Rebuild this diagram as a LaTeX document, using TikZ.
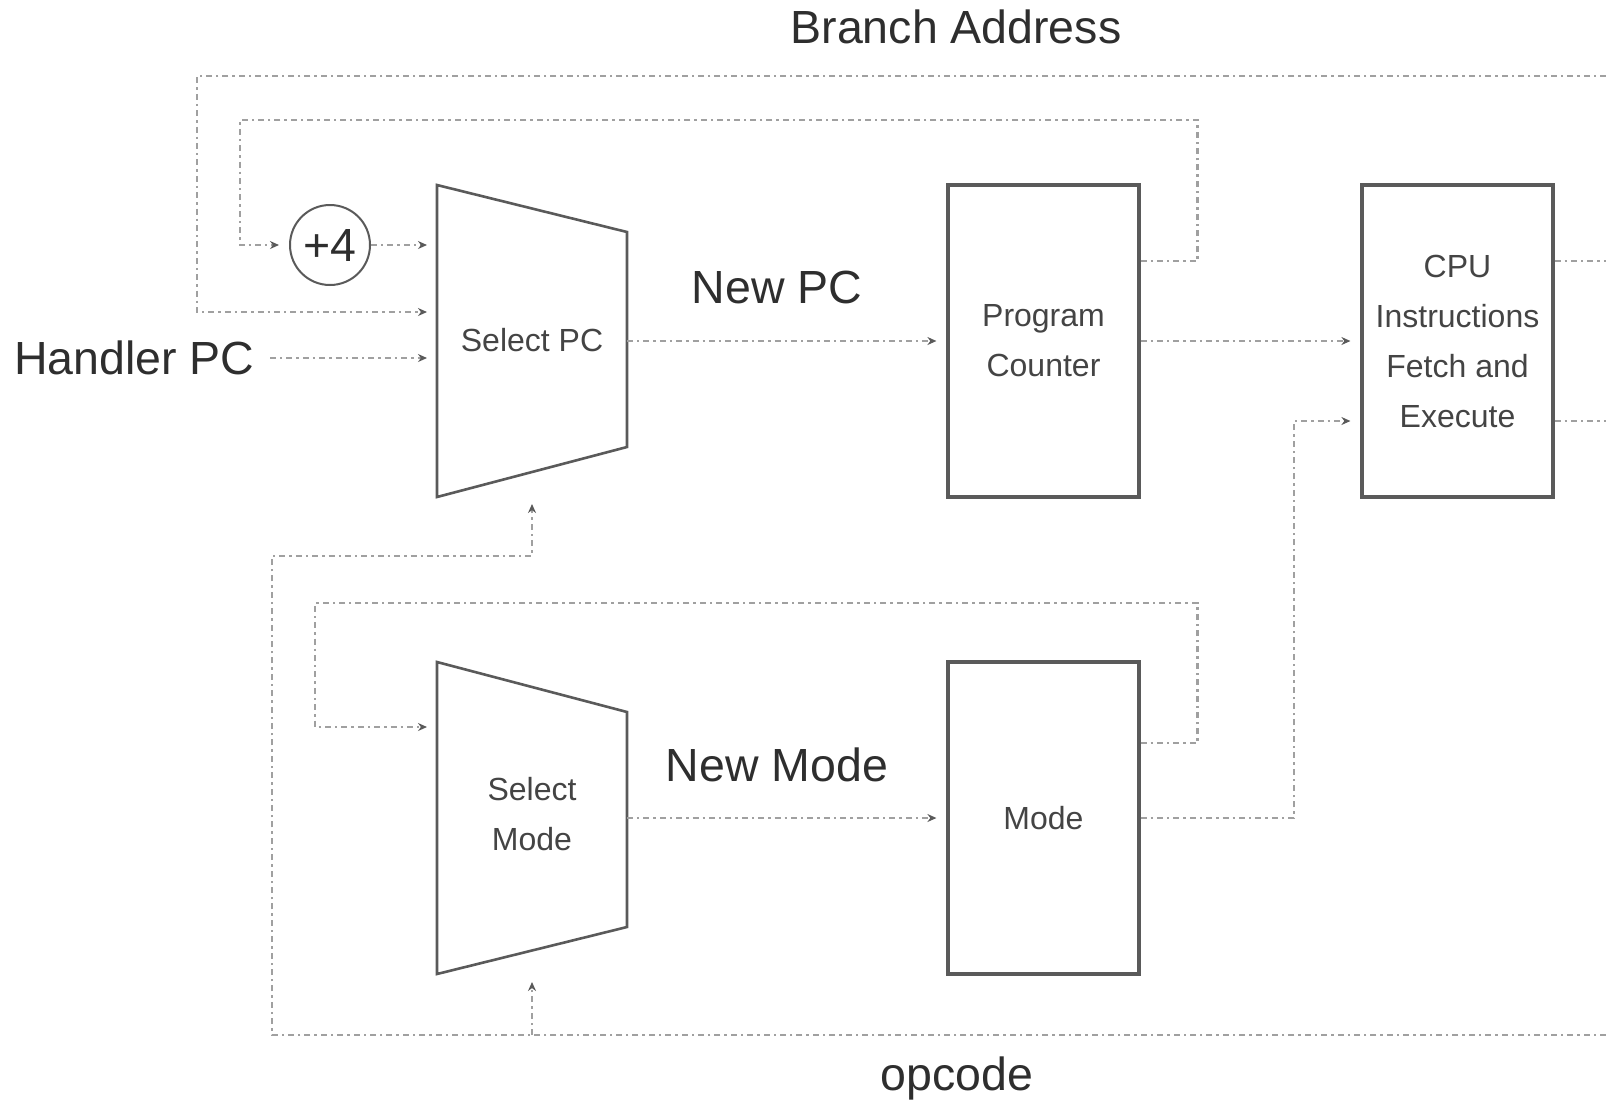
\documentclass[tikz,border=0pt]{standalone}
\usepackage{fontspec}
\setmainfont{Liberation Sans}
\usetikzlibrary{arrows.meta}
\definecolor{linegray}{HTML}{A0A0A0}
\definecolor{boxgray}{HTML}{5A5A5A}
\definecolor{txtgray}{HTML}{444444}
\definecolor{lblcol}{HTML}{2E2E2E}
\begin{document}
\begin{tikzpicture}[x=0.5pt,y=-0.5pt,
  wire/.style={draw=linegray, line width=1.2pt,
    dash pattern=on 3pt off 2pt on 1.2pt off 2pt},
  arr/.style={-{Stealth[length=4.5pt,width=4pt,color=boxgray]}, shorten >=5pt},
  regbox/.style={draw=boxgray, line width=1.6pt, minimum width=95.5pt, minimum height=156pt,
    align=center, text=txtgray, font=\fontsize{16}{25}\selectfont, inner sep=0pt},
  muxshape/.style={draw=boxgray, line width=1.3pt, line join=miter},
  muxtext/.style={align=center, text=txtgray, font=\fontsize{16}{25}\selectfont, inner sep=0pt},
  lbl/.style={text=lblcol, font=\fontsize{23.25}{28}\selectfont, inner sep=0pt},
  addcirc/.style={circle, draw=boxgray, line width=1pt, minimum size=40pt, inner sep=0pt,
    text=lblcol, font=\fontsize{23.25}{28}\selectfont}
]
\useasboundingbox (0,0) rectangle (1606,1099);

% multiplexers
\draw[muxshape] (437,185) -- (627,232) -- (627,447) -- (437,497) -- cycle;
\node[muxtext] (selpc) at (532,340) {Select PC};
\draw[muxshape] (437,662) -- (627,712) -- (627,927) -- (437,974) -- cycle;
\node[muxtext] (selmode) at (532,814) {Select\\Mode};

% mux ports
\coordinate (sp1) at (437,245);
\coordinate (sp2) at (437,312);
\coordinate (sp3) at (437,358);
\coordinate (spo) at (627,341);
\coordinate (spc) at (532,494);
\coordinate (smi) at (437,727);
\coordinate (smo) at (627,818);
\coordinate (smc) at (532,972);

% registers and CPU
\node[regbox] (pc) at (1043.5,341) {Program\\Counter};
\node[regbox] (mode) at (1043.5,818) {Mode};
\node[regbox] (cpu) at (1457.5,341) {CPU\\Instructions\\Fetch and\\Execute};

% adder
\node[addcirc] (plus4) at (330,245) {+4};

% labels
\node[lbl, anchor=base] (branch) at (956,43) {Branch Address};
\node[lbl, anchor=base] (opcode) at (957,1090) {opcode};
\node[lbl, anchor=base] (newpc) at (777,303) {New PC};
\node[lbl, anchor=base] (newmode) at (777,781) {New Mode};
\node[lbl, anchor=east] (handler) at (255,358) {Handler PC};

% free ends at the right edge
\coordinate (brR) at (1606,76);
\coordinate (cpuR1) at (1606,261);
\coordinate (cpuR2) at (1606,421);
\coordinate (opR) at (1606,1035);
\coordinate (opj) at (532,1035);

% connectors
\draw[wire,arr] ([yshift=40pt]pc.east) -- ++(57,0) |- (240,120) |- (plus4.west);
\draw[wire,arr] (plus4.east) -- (sp1);
\draw[wire,arr] (brR) -| (197,312) -- (sp2);
\draw[wire,arr] ([xshift=7.5pt]handler.east) -- (sp3);
\draw[wire,arr] (spo) -- (pc.west);
\draw[wire,arr] (pc.east) -- (cpu.west);
\draw[wire] ([yshift=40pt]cpu.east) -- (cpuR1);
\draw[wire] ([yshift=-40pt]cpu.east) -- (cpuR2);
\draw[wire,arr] ([yshift=37.5pt]mode.east) -- ++(57,0) |- (315,603) |- (smi);
\draw[wire,arr] (smo) -- (mode.west);
\draw[wire,arr] (mode.east) -- (1294,818) |- ([yshift=-40pt]cpu.west);
\draw[wire,arr] (opR) -| (272,556) -| (spc);
\draw[wire,arr] (opj) -- (smc);
\end{tikzpicture}
\end{document}
